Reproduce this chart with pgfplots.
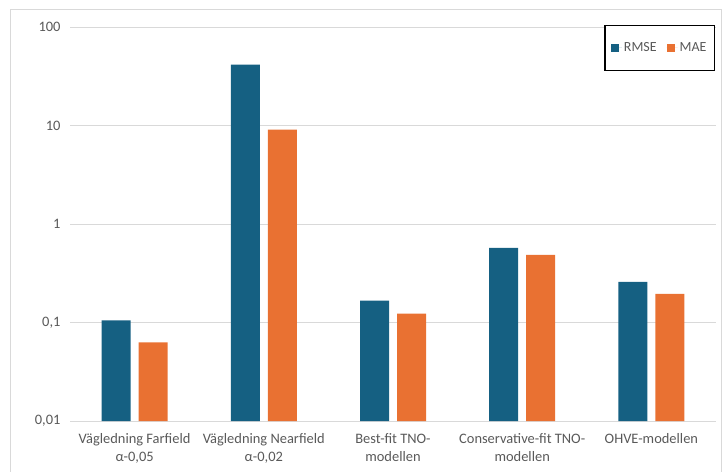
\documentclass[border=0pt]{standalone}
\usepackage{pgfplots}
\pgfplotsset{compat=1.18}
\usepackage{fontspec}
\setmainfont{Carlito}
\definecolor{cblue}{HTML}{156082}
\definecolor{corange}{HTML}{E97132}
\definecolor{ctext}{HTML}{595959}
\definecolor{cgrid}{HTML}{D9D9D9}
\begin{document}
\begin{tikzpicture}[x=1bp,y=1bp]
\useasboundingbox (-70bp,-51bp) rectangle (653bp,421bp);
\draw[cgrid, line width=0.8bp] (-60bp,-80bp) rectangle (651.5bp,412bp);
\begin{axis}[
  at={(0,0)}, anchor=south west,
  scale only axis, width=646bp, height=394bp,
  ymode=log, log origin=infty,
  ymin=0.01, ymax=100,
  xmin=-0.5, xmax=4.5,
  ybar=8bp, bar width=29bp,
  axis line style={draw=none},
  tick style={draw=none},
  ymajorgrids, grid style={cgrid, line width=0.8bp},
  ytick={0.01,0.1,1,10,100},
  yticklabels={{0,01},{0,1},{1},{10},{100}},
  yticklabel style={font=\fontsize{14.5}{16}\selectfont, text=ctext, xshift=-6bp},
  xtick={0,1,2,3,4},
  xticklabels={{Vägledning Farfield\\α-0,05},{Vägledning Nearfield\\α-0,02},{Best-fit TNO-\\modellen},{Conservative-fit TNO-\\modellen},{OHVE-modellen}},
  xticklabel style={font=\fontsize{14.5}{18}\selectfont, text=ctext, align=center, anchor=north, yshift=-5bp},
  legend style={at={(0.9985,1.005)}, anchor=north east, draw=black, line width=1.2bp,
    font=\fontsize{14}{16}\selectfont, text=ctext, legend columns=-1,
    inner xsep=6bp, inner ysep=15bp,
    /tikz/every even column/.append style={column sep=8bp}},
  legend image code/.code={\fill[#1, draw=none] (0bp,-4bp) rectangle (8bp,4bp); \path (0bp,0bp) -- (11bp,0bp);},
]
\addplot[fill=cblue, draw=none] coordinates {(0,0.105) (1,41.6) (2,0.167) (3,0.571) (4,0.258)};
\addplot[fill=corange, draw=none] coordinates {(0,0.063) (1,9.1) (2,0.123) (3,0.485) (4,0.195)};
\legend{RMSE,MAE}
\end{axis}
\end{tikzpicture}
\end{document}
